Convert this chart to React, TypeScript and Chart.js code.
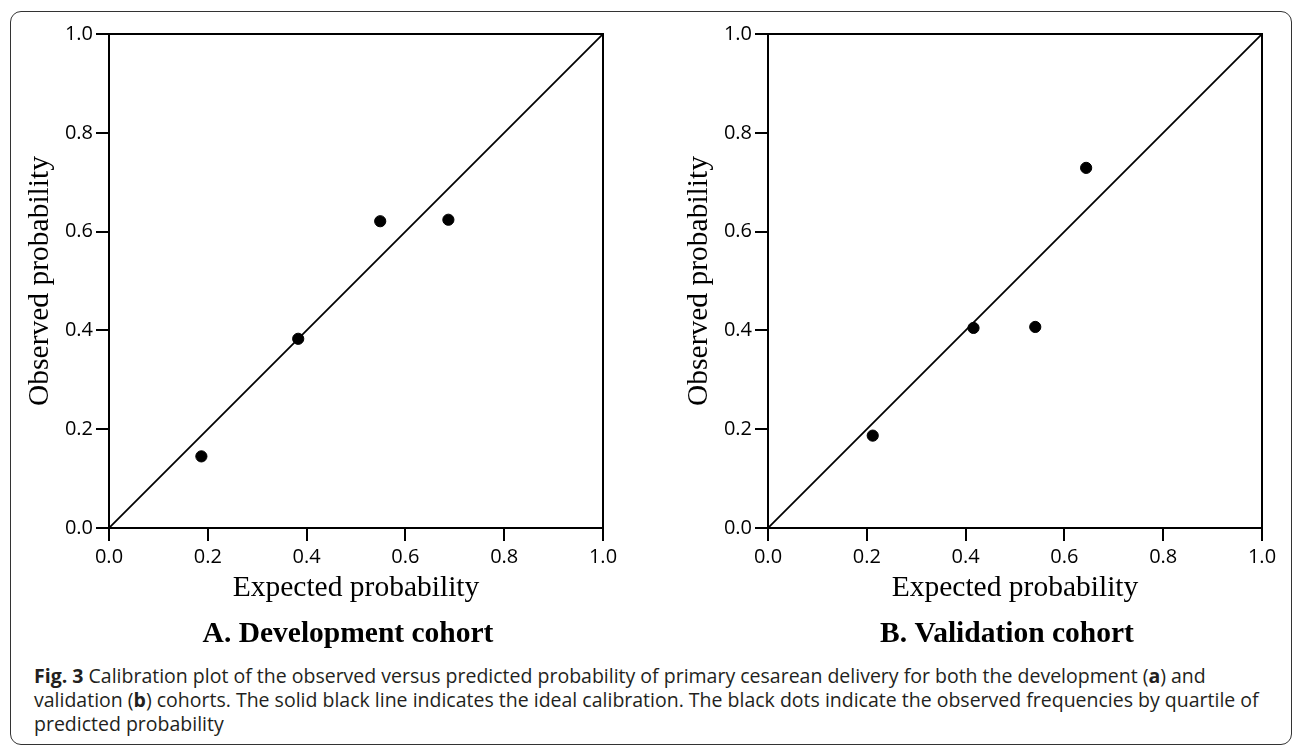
import React, { useEffect, useRef } from "react";
import { Chart, registerables } from "chart.js";

Chart.register(...registerables);

// ---- data ----
const AXIS_TICKS = [0, 0.2, 0.4, 0.6, 0.8, 1.0];
const IDEAL_X = [0, 1];
const IDEAL_Y = [0, 1];
const DEV_EXPECTED = [0.187, 0.383, 0.549, 0.687];
const DEV_OBSERVED = [0.145, 0.383, 0.621, 0.624];
const VAL_EXPECTED = [0.212, 0.416, 0.541, 0.644];
const VAL_OBSERVED = [0.187, 0.405, 0.407, 0.729];
const PANEL_TITLES = ["A. Development cohort", "B. Validation cohort"];
const X_TITLE = "Expected probability";
const Y_TITLE = "Observed probability";

const SERIF = "'Liberation Serif', 'Times New Roman', serif";
const SANS = "'Open Sans', 'Noto Sans', sans-serif";

const framePlugin = {
  id: "frameBox",
  afterDraw(chart: any) {
    const { ctx, chartArea } = chart;
    ctx.save();
    ctx.strokeStyle = "#000";
    ctx.lineWidth = 2;
    ctx.strokeRect(chartArea.left, chartArea.top, chartArea.right - chartArea.left, chartArea.bottom - chartArea.top);
    ctx.restore();
  },
};

function zeroPad(scale: any) {
  scale.paddingLeft = 0;
  scale.paddingRight = 0;
  scale.paddingTop = 0;
  scale.paddingBottom = 0;
}

function Panel({ expected, observed, title, left }: { expected: number[]; observed: number[]; title: string; left: number }) {
  const ref = useRef<HTMLCanvasElement | null>(null);
  useEffect(() => {
    if (!ref.current) return;
    const chart = new Chart(ref.current, {
      type: "scatter",
      data: {
        datasets: [
          {
            type: "line",
            label: "Ideal",
            data: IDEAL_X.map((x, i) => ({ x, y: IDEAL_Y[i] })),
            borderColor: "#000",
            borderWidth: 1.8,
            pointRadius: 0,
            fill: false,
          } as any,
          {
            type: "scatter",
            label: "Observed",
            data: expected.map((x, i) => ({ x, y: observed[i] })),
            backgroundColor: "#000",
            borderColor: "#000",
            pointRadius: 5.6,
            pointHoverRadius: 5.6,
          },
        ],
      },
      options: {
        animation: false,
        responsive: false,
        maintainAspectRatio: false,
        events: [],
        layout: { padding: { top: 34, left: 0, right: 0, bottom: 7.8 } },
        plugins: {
          legend: { display: false },
          tooltip: { enabled: false },
          title: {
            display: true,
            position: "bottom",
            text: title,
            color: "#000",
            font: { family: SERIF, size: 29.5, weight: "bold", lineHeight: 1.2 },
            padding: { top: 12.8, bottom: 0 },
          },
        },
        scales: {
          x: {
            type: "linear",
            min: 0,
            max: 1,
            afterBuildTicks: (scale: any) => {
              scale.ticks = AXIS_TICKS.map((v) => ({ value: v }));
            },
            afterFit: (scale: any) => {
              scale.height = 76;
              zeroPad(scale);
            },
            ticks: {
              color: "#000",
              padding: 4,
              font: { family: SANS, size: 20 },
              callback: (v: any) => Number(v).toFixed(1),
            },
            grid: { drawOnChartArea: false, drawTicks: true, tickLength: 13, color: "#000", lineWidth: 2 },
            border: { display: true, color: "#000", width: 2 },
            title: {
              display: true,
              text: X_TITLE,
              color: "#000",
              font: { family: SERIF, size: 29.5, lineHeight: 1.2 },
              padding: { top: 0, bottom: -1.5 },
            },
          },
          y: {
            type: "linear",
            min: 0,
            max: 1,
            afterBuildTicks: (scale: any) => {
              scale.ticks = AXIS_TICKS.map((v) => ({ value: v }));
            },
            afterFit: (scale: any) => {
              scale.width = 99;
              zeroPad(scale);
            },
            ticks: {
              color: "#000",
              padding: 3,
              font: { family: SANS, size: 20 },
              callback: (v: any) => Number(v).toFixed(1),
            },
            grid: { drawOnChartArea: false, drawTicks: true, tickLength: 13, color: "#000", lineWidth: 2 },
            border: { display: true, color: "#000", width: 2 },
            title: {
              display: true,
              text: Y_TITLE,
              color: "#000",
              font: { family: SERIF, size: 29.5, lineHeight: 1.2 },
              padding: { top: 12.3, bottom: 0 },
            },
          },
          // invisible spacer axis on the right so the panel title centres on the whole panel
          ySpacer: {
            type: "linear",
            position: "right",
            min: 0,
            max: 1,
            display: true,
            afterFit: (scale: any) => {
              scale.width = 83;
              zeroPad(scale);
            },
            ticks: { display: false },
            grid: { display: false, drawTicks: false },
            border: { display: false },
            title: { display: false },
          },
        },
      } as any,
      plugins: [framePlugin],
    });
    return () => chart.destroy();
  }, [expected, observed, title]);

  return (
    <div style={{ position: "absolute", left, top: 0, width: 676, height: 660 }}>
      <canvas ref={ref} width={676} height={660} style={{ width: 676, height: 660, display: "block" }} />
    </div>
  );
}

const lineStyle: React.CSSProperties = { whiteSpace: "nowrap", height: 24, lineHeight: "24px" };

export default function App() {
  return (
    <div
      style={{
        position: "absolute",
        left: 0,
        top: 0,
        width: 1293,
        height: 747,
        overflow: "hidden",
        background: "#fff",
      }}
    >
      <div
        style={{
          position: "absolute",
          left: 10,
          top: 11,
          width: 1282,
          height: 734,
          boxSizing: "border-box",
          border: "1.5px solid #333",
          borderRadius: 11,
        }}
      />
      <Panel expected={DEV_EXPECTED} observed={DEV_OBSERVED} title={PANEL_TITLES[0]} left={10} />
      <Panel expected={VAL_EXPECTED} observed={VAL_OBSERVED} title={PANEL_TITLES[1]} left={669} />
      <div
        style={{
          position: "absolute",
          left: 34,
          top: 663.5,
          fontFamily: SANS,
          fontSize: 19.5,
          color: "#231f20",
        }}
      >
        <div style={lineStyle}>
          <b>Fig. 3</b> Calibration plot of the observed versus predicted probability of primary cesarean delivery for both the development (<b>a</b>) and
        </div>
        <div style={lineStyle}>
          validation (<b>b</b>) cohorts. The solid black line indicates the ideal calibration. The black dots indicate the observed frequencies by quartile of
        </div>
        <div style={lineStyle}>predicted probability</div>
      </div>
    </div>
  );
}
